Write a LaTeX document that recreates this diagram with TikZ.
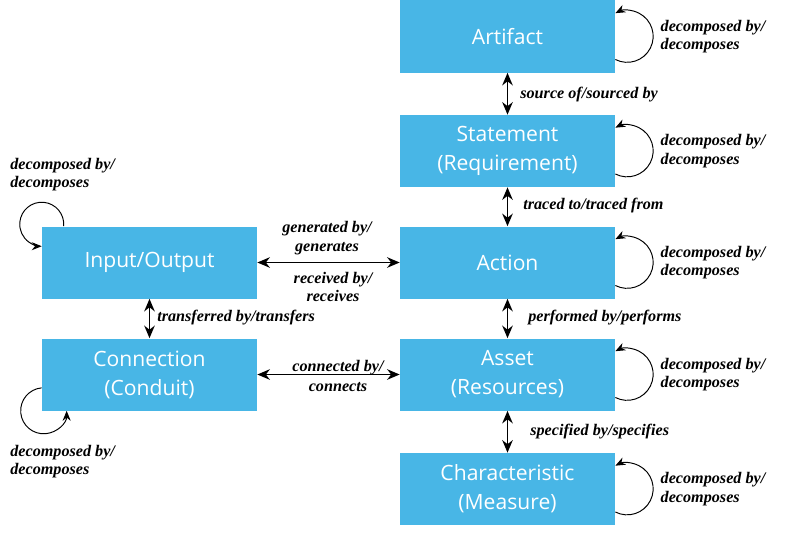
\documentclass[tikz,border=0pt]{standalone}
\usepackage{fontspec}
\newfontfamily\boxfont{Open Sans}
\newfontfamily\lblfont{Liberation Serif}
\usetikzlibrary{arrows.meta}
\definecolor{boxblue}{RGB}{72,182,230}
\tikzset{
  entity/.style={fill=boxblue, draw=none, text=white, minimum width=4.3cm, minimum height=1.44cm, align=center, font=\boxfont\fontsize{12}{16.5}\selectfont},
  rel/.style={font=\lblfont\bfseries\itshape\fontsize{9.2}{10.6}\selectfont, inner sep=0pt},
  dbl/.style={{Stealth[length=2.5mm,width=2.1mm]}-{Stealth[length=2.5mm,width=2.1mm]}, line width=1.1pt},
  selfloop/.style={-{Stealth[length=2mm,width=1.6mm]}, line width=0.55pt}
}
\begin{document}
\begin{tikzpicture}
\useasboundingbox (0,0) rectangle (16,-10.68);
% entities
\node[entity] (art) at (10.15,-0.73) {Artifact};
\node[entity] (stm) at (10.15,-3.02) {Statement\\(Requirement)};
\node[entity] (act) at (10.15,-5.25) {Action};
\node[entity] (ast) at (10.15,-7.49) {Asset\\(Resources)};
\node[entity] (chr) at (10.15,-9.78) {Characteristic\\(Measure)};
\node[entity] (io) at (2.99,-5.25) {Input/Output};
\node[entity] (con) at (2.99,-7.49) {Connection\\(Conduit)};
% relations
\draw[dbl] (art) -- (stm);
\draw[dbl] (stm) -- (act);
\draw[dbl] (act) -- (ast);
\draw[dbl] (ast) -- (chr);
\draw[dbl] (io) -- (act);
\draw[dbl] (con) -- (ast);
\draw[dbl] (io) -- (con);
\node[rel, anchor=west] (l1) at (10.4,-1.9) {source of/sourced by};
\node[rel, anchor=west] (l2) at (10.46,-4.12) {traced to/traced from};
\node[rel, anchor=west] (l3) at (10.56,-6.36) {performed by/performs};
\node[rel, anchor=west] (l4) at (10.6,-8.64) {specified by/specifies};
\node[rel, anchor=west] (l5) at (3.14,-6.36) {transferred by/transfers};
\node[rel, align=center] (l6) at (6.54,-4.76) {generated by/\\generates};
\node[rel, align=center] (l7) at (6.66,-5.74) {received by/\\receives};
\node[rel, align=center, text depth=0pt] (l8) at (6.76,-7.52) {connected by/\\[1pt]connects};
% self loops
\foreach \n in {art,stm,act,ast,chr}{
  \draw[selfloop] ([yshift=-0.46cm]\n.east) arc[start angle=-117, end angle=117, radius=0.52cm];
  \node[rel, align=left, anchor=west] (d\n) at ([xshift=0.9cm]\n.east) {decomposed by/\\decomposes};
}
\draw[selfloop] ([xshift=0.44cm]io.north west) arc[start angle=-5, end angle=270, radius=0.44cm];
\draw[selfloop] ([yshift=0.46cm]con.south west) arc[start angle=95, end angle=360, radius=0.46cm];
\node[rel, align=left, anchor=west] (dio) at (0.2,-3.49) {decomposed by/\\decomposes};
\node[rel, align=left, anchor=west] (dcon) at (0.2,-9.23) {decomposed by/\\decomposes};
\end{tikzpicture}
\end{document}
